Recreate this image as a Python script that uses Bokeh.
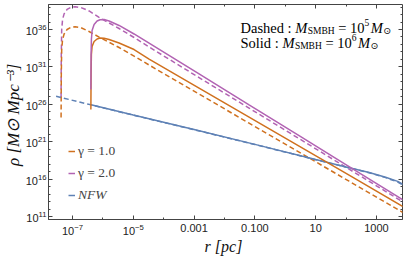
from bokeh.plotting import figure
from bokeh.models import (LogAxis, FixedTicker, Legend, LegendItem, Label, Range1d,
                          CustomJSTickFormatter)
from bokeh.embed import file_html
from bokeh.resources import INLINE

# ---------------- data (log10 r [pc], log10 rho [Msun/pc^3]) ----------------
# gamma = 1.0, M_SMBH = 1e5 Msun (dashed)
g1_m5_logr = [-7.375, -7.368, -7.355, -7.326, -7.276, -7.178, -7.046, -6.914, -6.717, -6.454,
              -6.125, -5.796, -5.467, -4.974, -4.480, -2.836, -1.191, 0.454, 2.099, 3.964]
g1_m5_logrho = [24.22, 29.98, 33.32, 34.66, 35.40, 36.00, 36.29, 36.36, 36.23, 35.73,
                34.99, 34.29, 33.59, 32.45, 31.25, 27.37, 23.48, 19.60, 15.72, 11.31]
# gamma = 2.0, M_SMBH = 1e5 Msun (dashed)
g2_m5_logr = [-7.375, -7.368, -7.355, -7.326, -7.276, -7.178, -7.046, -6.914, -6.717, -6.454,
              -6.125, -5.796, -5.467, -4.974, -4.480, -2.836, -1.191, 0.454, 2.099, 3.964]
g2_m5_logrho = [26.90, 32.65, 36.00, 37.34, 38.08, 38.68, 38.97, 39.05, 38.92, 38.48,
                37.61, 36.87, 36.13, 34.93, 33.66, 29.57, 25.49, 21.41, 17.33, 12.71]
# gamma = 1.0, M_SMBH = 1e6 Msun (solid)
g1_m6_logr = [-6.395, -6.388, -6.378, -6.355, -6.289, -6.191, -6.092, -5.961, -5.796, -5.467,
              -4.974, -4.480, -2.836, -1.191, 0.454, 2.099, 3.964]
g1_m6_logrho = [25.29, 29.98, 32.65, 33.72, 34.39, 34.73, 34.86, 34.82, 34.66, 34.19,
                33.32, 32.05, 28.17, 24.29, 20.40, 16.52, 12.12]
# gamma = 2.0, M_SMBH = 1e6 Msun (solid)
g2_m6_logr = [-6.395, -6.388, -6.378, -6.355, -6.289, -6.191, -6.092, -5.961, -5.796, -5.467,
              -4.974, -4.480, -2.836, -1.191, 0.454, 2.099, 3.964]
g2_m6_logrho = [27.97, 32.65, 34.66, 35.87, 36.67, 37.14, 37.31, 37.34, 37.14, 36.54,
                35.40, 34.19, 30.06, 25.93, 21.81, 17.67, 12.99]
# NFW (dashed: M=1e5 range, solid: M=1e6 range)
nfw_m5_logr = [-7.54, -6.5, -5.0, -3.0, -1.0, 1.0, 2.0, 2.76, 3.3, 3.7, 3.96]
nfw_m5_logrho = [27.07, 26.03, 24.55, 22.60, 20.62, 18.60, 17.60, 16.85, 16.20, 15.60, 15.00]
nfw_m6_logr = [-6.39, -5.0, -3.0, -1.0, 1.0, 2.0, 2.76, 3.3, 3.7, 3.96]
nfw_m6_logrho = [25.95, 24.57, 22.62, 20.64, 18.62, 17.62, 16.88, 16.25, 15.70, 15.10]

x_major = [1e-7, 1e-5, 1e-3, 1e-1, 10, 1000]
x_minor = [1e-8, 1e-6, 1e-4, 1e-2, 1, 100, 1e4]
x_labels = {1e-3: "0.001", 1e-1: "0.100", 10: "10", 1000: "1000"}
y_major = [1e11, 1e16, 1e21, 1e26, 1e31, 1e36]
y_minor = [10.0 ** k for k in range(10, 41) if k not in (11, 16, 21, 26, 31, 36)]

legend_labels = ["γ = 1.0", "γ = 2.0", "NFW"]
x_title = "r  [pc]"
y_title = "ρ  [M⊙  Mpc⁻³]"

ORANGE = "#D0711F"
PURPLE = "#B263B3"
BLUE = "#5E81B5"


def pw(vals):
    return [10.0 ** v for v in vals]


FW, FH = 354, 215          # frame size
FL, FB = 51, 225           # frame left / bottom on the page

p = figure(frame_width=FW, frame_height=FH, x_axis_type="log", y_axis_type="log",
           x_range=Range1d(10 ** -7.789, 10 ** 3.856), y_range=Range1d(10 ** 10.60, 10 ** 39.34),
           output_backend="svg", toolbar_location=None,
           min_border_left=43, min_border_right=2, min_border_top=2, min_border_bottom=30)
p.grid.visible = False
p.outline_line_color = "#444444"
p.outline_line_width = 1
p.background_fill_color = "white"

LW = 1.5
DASH = "5 3"
p.line(pw(g2_m5_logr), pw(g2_m5_logrho), color=PURPLE, line_width=LW, line_dash=DASH)
p.line(pw(g1_m5_logr), pw(g1_m5_logrho), color=ORANGE, line_width=LW, line_dash=DASH)
r_b6 = p.line(pw(nfw_m6_logr), pw(nfw_m6_logrho), color=BLUE, line_width=LW)
p.line(pw(nfw_m5_logr), pw(nfw_m5_logrho), color=BLUE, line_width=LW, line_dash=DASH)
r_o6 = p.line(pw(g1_m6_logr), pw(g1_m6_logrho), color=ORANGE, line_width=LW)
r_p6 = p.line(pw(g2_m6_logr), pw(g2_m6_logrho), color=PURPLE, line_width=LW)

# axes
for ax in (p.xaxis[0], p.yaxis[0]):
    ax.axis_line_color = "#444444"
    ax.major_tick_line_color = "#444444"
    ax.minor_tick_line_color = "#444444"
    ax.major_tick_in = 4
    ax.major_tick_out = 0
    ax.minor_tick_in = 2
    ax.minor_tick_out = 0
    ax.major_label_text_font = "Liberation Sans"
    ax.major_label_text_font_size = "11px"
    ax.major_label_text_color = "#222222"
    ax.axis_label_text_font = "Liberation Serif"
    ax.axis_label_text_font_style = "italic"
    ax.axis_label_text_color = "#111111"
    ax.axis_label_standoff = 0

p.xaxis[0].ticker = FixedTicker(ticks=x_major, minor_ticks=x_minor)
p.xaxis[0].major_label_overrides = x_labels
p.xaxis[0].major_label_standoff = 4
p.xaxis[0].axis_label = x_title
p.xaxis[0].axis_label_text_font_size = "16px"

p.yaxis[0].ticker = FixedTicker(ticks=y_major, minor_ticks=y_minor)
p.yaxis[0].major_label_standoff = 2
p.yaxis[0].axis_label = y_title
p.yaxis[0].axis_label_text_font_size = "17px"

# mirrored ticks on right and top (no labels)
blank = CustomJSTickFormatter(code="return ' '")
for loc, tk in (("right", FixedTicker(ticks=y_major, minor_ticks=y_minor)),
                ("above", FixedTicker(ticks=x_major, minor_ticks=x_minor))):
    a = LogAxis(ticker=tk, formatter=blank, major_label_text_font_size="1px",
                major_label_standoff=0,
                major_tick_in=4, major_tick_out=0, minor_tick_in=2, minor_tick_out=0,
                axis_line_color=None, major_tick_line_color="#444444",
                minor_tick_line_color="#444444")
    p.add_layout(a, loc)

# legends
common = dict(glyph_width=7, glyph_height=20, label_height=20, label_standoff=3, spacing=2,
              padding=0, margin=0, background_fill_alpha=0, border_line_alpha=0,
              label_text_font="Liberation Serif", label_text_font_size="13.5px")
leg1 = Legend(items=[LegendItem(label=legend_labels[0], renderers=[r_o6]),
                     LegendItem(label=legend_labels[1], renderers=[r_p6])],
              location=(20, 36), **common)
leg2 = Legend(items=[LegendItem(label=legend_labels[2], renderers=[r_b6])],
              location=(20, 14), label_text_font_style="italic", **common)
p.add_layout(leg1)
p.add_layout(leg2)


def seg(px, py, text, size, style="normal", font="Liberation Serif"):
    p.add_layout(Label(x=px - FL, y=FB - py, x_units="screen", y_units="screen", text=text,
                       text_font=font, text_font_size=f"{size}px", text_font_style=style,
                       text_color="black", text_baseline="alphabetic", text_align="left"))


def ann(px, py, lead, lead_em, expo):
    big, small = 14.5, 9.5
    seg(px, py, lead, big)
    x = px + lead_em * big
    seg(x, py, "M", big, "italic")
    x += 0.86 * big
    seg(x, py + 3, "SMBH", small)
    x += 2.834 * small + 0.25 * big
    seg(x, py, "=", big)
    x += (0.564 + 0.25) * big
    seg(x, py, "10", big)
    x += 1.0 * big
    seg(x, py - 5.5, expo, small)
    x += 0.5 * small + 1.5
    seg(x, py, "M", big, "italic")
    x += 0.86 * big
    seg(x, py + 3, "⊙", small, font="DejaVu Sans")


ann(243, 33, "Dashed :", 3.777, "5")
ann(243, 48, "Solid :", 2.89, "6")

open("out.html", "w").write(file_html(p, INLINE))
